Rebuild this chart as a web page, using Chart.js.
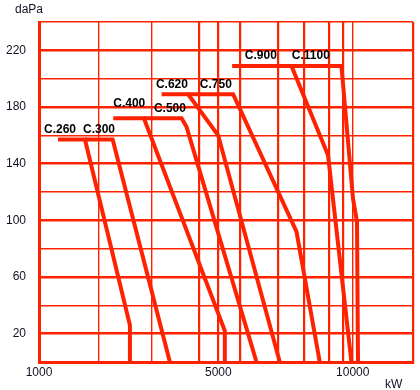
<!DOCTYPE html>
<html>
<head>
<meta charset="utf-8">
<script src="https://cdn.jsdelivr.net/npm/chart.js@4"></script>
<style>
  html, body { margin: 0; padding: 0; background: #fff; }
  #wrap { width: 420px; height: 390px; }
</style>
</head>
<body>
<div id="wrap"><canvas id="pumpChart"></canvas></div>
<script>
// Tên các máy
const pumps = ['C.260', 'C.300', 'C.400', 'C.500', 'C.620', 'C.750', 'C.900', 'C.1100'];

// Công suất (kW) từng điểm của đường cong
const c260Kw  = [1279, 1734, 2646, 2646];
const c300Kw  = [1734, 2273, 3618];
const c400Kw  = [2285, 2969, 5202, 5202];
const c500Kw  = [2969, 3931, 4068, 6246];
const c620Kw  = [3404, 4113, 4994, 7073];
const c750Kw  = [4113, 5466, 7699, 8614];
const c900Kw  = [5434, 7509, 8953, 9944];
const c1100Kw = [7509, 9514, 10014, 10187, 10232];

// Áp suất (daPa) tương ứng
const c260Pa  = [157, 157, 26, 0];
const c300Pa  = [157, 157, 0];
const c400Pa  = [172, 172, 22, 0];
const c500Pa  = [172, 172, 166, 0];
const c620Pa  = [189, 189, 160, 0];
const c750Pa  = [189, 189, 92, 0];
const c900Pa  = [209, 209, 146, 0];
const c1100Pa = [209, 209, 115, 99, 0];

// Vị trí nhãn tên máy (theo đơn vị dữ liệu)
const labelKw = [1070, 1698, 2285, 3211, 3260, 4447, 5850, 7520];
const labelPa = [164, 164, 182, 179, 196, 196, 216.5, 216.5];

// Các đường lưới và nhãn trục
const xGrid   = [1000, 2000, 3160, 4420, 5000, 5690, 7000, 8000, 9000, 9570, 10000, 12800];
const xLabels = [1000, 5000, 10000];
const yGrid   = [0, 20, 40, 60, 80, 100, 120, 140, 160, 180, 200, 220, 240];
const yLabels = [20, 60, 100, 140, 180, 220];

const kwSeries = [c260Kw, c300Kw, c400Kw, c500Kw, c620Kw, c750Kw, c900Kw, c1100Kw];
const paSeries = [c260Pa, c300Pa, c400Pa, c500Pa, c620Pa, c750Pa, c900Pa, c1100Pa];

const RED = '#ff2200';
const FONT = "'Liberation Sans', Arial, sans-serif";

// Trục căn bậc hai (trục X của biểu đồ gốc)
class SqrtScale extends Chart.LinearScale {
    getPixelForValue(value) {
        const a = Math.sqrt(this.min), b = Math.sqrt(this.max);
        return this.getPixelForDecimal((Math.sqrt(value) - a) / (b - a));
    }
    getValueForPixel(pixel) {
        const a = Math.sqrt(this.min), b = Math.sqrt(this.max);
        const d = this.getDecimalForPixel(pixel);
        return Math.pow(a + d * (b - a), 2);
    }
}
SqrtScale.id = 'sqrt';
SqrtScale.defaults = {};
Chart.register(SqrtScale);

const datasets = pumps.map((name, i) => ({
    label: name,
    data: kwSeries[i].map((kw, j) => ({ x: kw, y: paSeries[i][j] })),
    borderColor: RED,
    borderWidth: 4,
    pointRadius: 0,
    tension: 0,
    fill: false,
    borderJoinStyle: 'miter'
}));

// Vẽ tên máy và tiêu đề trục
const textPlugin = {
    id: 'texts',
    afterDatasetsDraw(chart) {
        const c = chart.ctx, xs = chart.scales.x, ys = chart.scales.y;
        c.save();
        c.fillStyle = '#000';
        c.font = 'bold 12px ' + FONT;
        c.textAlign = 'left';
        c.textBaseline = 'middle';
        pumps.forEach((name, i) => {
            c.fillText(name, xs.getPixelForValue(labelKw[i]), ys.getPixelForValue(labelPa[i]));
        });
        c.font = '12px ' + FONT;
        c.fillStyle = '#111122';
        c.textAlign = 'left';
        c.fillText('daPa', 15, 10);
        c.fillText('kW', 385, 385);
        c.restore();
    }
};

const thinX = [2000, 3160, 10000];

const ctx = document.getElementById('pumpChart').getContext('2d');
const pumpChart = new Chart(ctx, {
    type: 'line',
    data: { datasets: datasets },
    options: {
        responsive: true,
        maintainAspectRatio: false,
        animation: false,
        layout: { padding: { top: 22, right: 7, left: 0, bottom: 0 } },
        plugins: { legend: { display: false }, tooltip: { enabled: false } },
        scales: {
            x: {
                type: 'sqrt',
                min: 1000,
                max: 12800,
                afterBuildTicks: s => { s.ticks = xGrid.map(v => ({ value: v })); },
                afterFit: s => { s.height = 28; },
                grid: {
                    color: RED,
                    lineWidth: c => thinX.includes(c.tick && c.tick.value) ? 1.4 : 2.2,
                    drawTicks: false
                },
                border: { color: RED, width: 3 },
                ticks: {
                    autoSkip: false,
                    maxRotation: 0,
                    padding: 3,
                    color: '#111122',
                    font: { family: FONT, size: 12 },
                    callback: v => xLabels.includes(v) ? String(v) : ''
                }
            },
            y: {
                type: 'linear',
                min: 0,
                max: 240,
                afterBuildTicks: s => { s.ticks = yGrid.map(v => ({ value: v })); },
                afterFit: s => { s.width = 39; },
                grid: {
                    color: RED,
                    lineWidth: c => yLabels.includes(c.tick && c.tick.value) ? 2.4 : 1.5,
                    drawTicks: false
                },
                border: { color: RED, width: 3 },
                ticks: {
                    autoSkip: false,
                    padding: 13,
                    color: '#111122',
                    font: { family: FONT, size: 12 },
                    callback: v => yLabels.includes(v) ? String(v) : ''
                }
            }
        }
    },
    plugins: [textPlugin]
});
</script>
</body>
</html>
